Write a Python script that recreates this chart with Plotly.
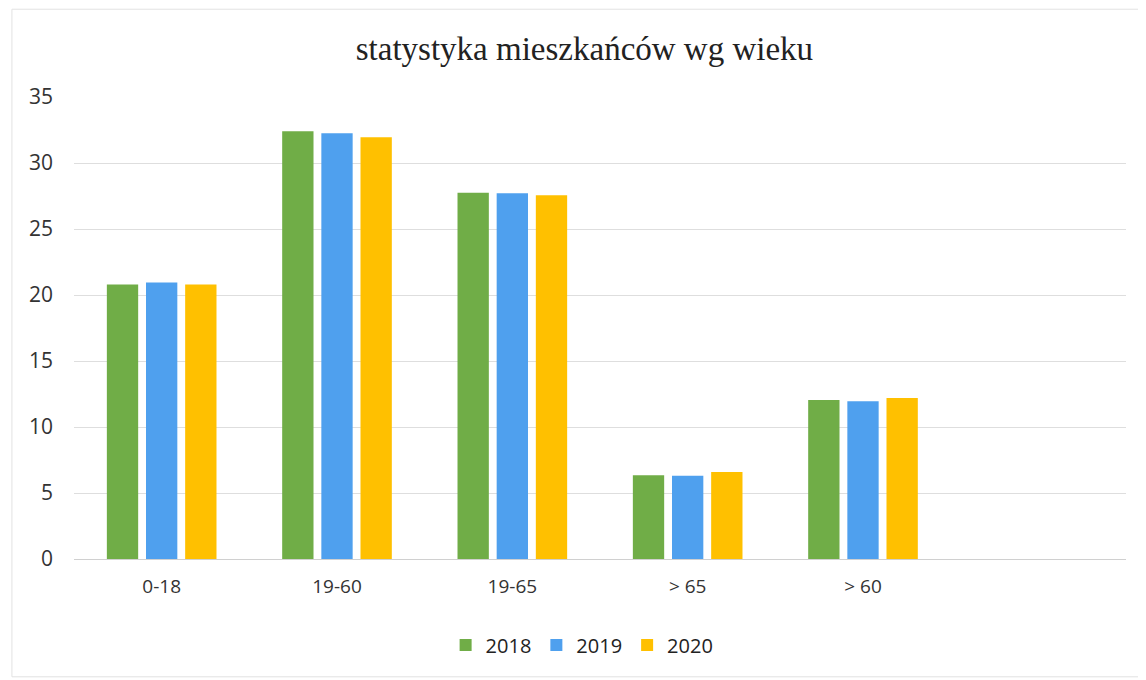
import plotly.graph_objects as go

categories = ["0-18", "19-60", "19-65", "> 65", "> 60"]
series_names = ["2018", "2019", "2020"]
values_2018 = [20.8, 32.4, 27.75, 6.35, 12.05]
values_2019 = [20.95, 32.25, 27.7, 6.3, 11.95]
values_2020 = [20.8, 31.95, 27.55, 6.6, 12.2]
colors = ["#70AD47", "#4FA0EE", "#FFC000"]
y_ticks = [0, 5, 10, 15, 20, 25, 30, 35]

fig = go.Figure()
for name, vals, col in zip(series_names, [values_2018, values_2019, values_2020], colors):
    fig.add_trace(go.Bar(x=categories, y=vals, name=name, marker=dict(color=col, line=dict(width=0))))

fig.update_layout(
    width=1146, height=680,
    paper_bgcolor="white", plot_bgcolor="white",
    barmode="group", bargap=0.33, bargroupgap=0.2,
    margin=dict(l=66, r=28, t=89, b=129),
    title=dict(text="statystyka mieszkańców wg wieku", x=0.503, xanchor="center",
               y=0.941, yanchor="middle",
               font=dict(family="Liberation Serif, DejaVu Serif, serif", size=33, color="#222222")),
    font=dict(family="Open Sans, Noto Sans, sans-serif", size=16, color="#333333"),
    legend=dict(orientation="h", x=0.483, xanchor="center", y=-0.186, yanchor="middle",
                font=dict(size=20, color="#222222"), traceorder="normal"),
    xaxis=dict(categoryorder="array", categoryarray=categories, range=[-0.5, 5.5],
               showgrid=False, showline=True, linecolor="#d0d0d0", linewidth=1,
               ticks="", tickfont=dict(size=19, color="#333333"), ticklabelstandoff=10),
    yaxis=dict(range=[0, 35], tickvals=y_ticks, showgrid=True, gridcolor="#dedede",
               gridwidth=1, zeroline=False, showline=False, ticks="",
               tickfont=dict(size=21, color="#333333"), ticklabelstandoff=20),
    shapes=[dict(type="rect", xref="paper", yref="paper", x0=-0.059, x1=1.1, y0=-0.255, y1=1.19,
                 line=dict(color="#e2e2e2", width=1), fillcolor="rgba(0,0,0,0)", layer="below")],
)

fig.write_html("out.html")
